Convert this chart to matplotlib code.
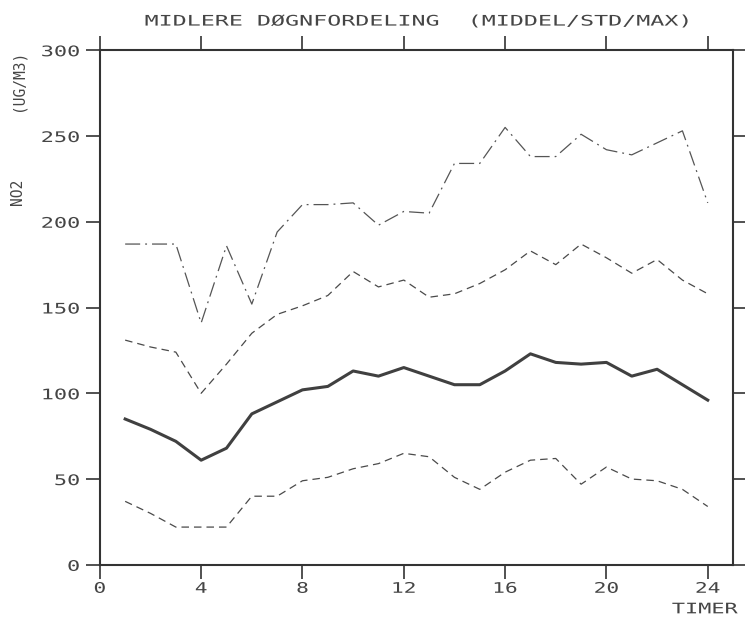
import matplotlib.pyplot as plt
import numpy as np
from matplotlib.patheffects import AbstractPathEffect
from matplotlib.transforms import Affine2D

# Timevis NO2 (ug/m3): middel, middel +/- std og maks
timer = np.arange(1, 25)
middel = [85, 79, 72, 61, 68, 88, 95, 102, 104, 113, 110, 115, 110, 105, 105, 113,
          123, 118, 117, 118, 110, 114, 105, 96]
std_pluss = [131, 127, 124, 100, 117, 135, 146, 151, 157, 171, 162, 166, 156, 158, 164, 172,
             183, 175, 187, 179, 170, 178, 166, 158]
std_minus = [37, 30, 22, 22, 22, 40, 40, 49, 51, 56, 59, 65, 63, 51, 44, 54,
             61, 62, 47, 57, 50, 49, 44, 34]
maks = [187, 187, 187, 141, 186, 152, 194, 210, 210, 211, 198, 206, 205, 234, 234, 255,
        238, 238, 251, 242, 239, 246, 253, 211]

x_ticks = [0, 4, 8, 12, 16, 20, 24]
y_ticks = [0, 50, 100, 150, 200, 250, 300]

ink = '#454545'
font = 'DejaVu Sans Mono'


class Wide(AbstractPathEffect):
    """Draws text glyphs stretched along the writing direction (plotter lettering)."""

    def __init__(self, sx, anchor='center'):
        super().__init__()
        self.sx = sx
        self.anchor = anchor

    def draw_path(self, renderer, gc, tpath, affine, rgbFace=None):
        ext = tpath.get_extents()
        if self.anchor == 'right':
            x0 = ext.x1
        elif self.anchor == 'left':
            x0 = ext.x0
        else:
            x0 = (ext.x0 + ext.x1) / 2
        stretch = Affine2D().translate(-x0, 0).scale(self.sx, 1).translate(x0, 0)
        renderer.draw_path(gc, tpath, stretch + affine, rgbFace)


fig = plt.figure(figsize=(7.45, 6.2), dpi=100)
ax = fig.add_axes([0.134, 0.089, 0.850, 0.830])

ax.plot(timer, maks, color='#555555', linewidth=0.9, dashes=(12, 4, 1.5, 4))
ax.plot(timer, std_pluss, color='#4a4a4a', linewidth=0.9, dashes=(6, 4))
ax.plot(timer, std_minus, color='#4a4a4a', linewidth=0.9, dashes=(6, 4))
ax.plot(timer, middel, color='#404040', linewidth=2.2)

ax.set_xlim(0, 25)
ax.set_ylim(0, 300)
ax.set_xticks(x_ticks)
ax.set_yticks(y_ticks)
ax.set_xticklabels([str(t) for t in x_ticks], fontfamily=font, fontsize=10.5, color=ink)
ax.set_yticklabels([str(t) for t in y_ticks], fontfamily=font, fontsize=10.5, color=ink)
ax.tick_params(axis='x', direction='out', length=10, width=1.2, color='#333333', pad=1.5,
               top=True)
ax.tick_params(axis='y', direction='out', length=10, width=1.2, color='#333333', pad=4.5,
               right=True)
for lbl in ax.get_xticklabels():
    lbl.set_path_effects([Wide(1.45)])
for lbl in ax.get_yticklabels():
    lbl.set_path_effects([Wide(1.5, 'right')])

for side in ax.spines.values():
    side.set_color('#333333')
    side.set_linewidth(1.5)

title = fig.text(0.560, 0.966, 'MIDLERE DØGNFORDELING  (MIDDEL/STD/MAX)', ha='center',
                 va='center', fontfamily=font, fontsize=10.5, color=ink)
title.set_path_effects([Wide(1.6)])

fig.text(0.024, 0.690, 'NO2', rotation=90, ha='center', va='center',
         fontfamily=font, fontsize=10.5, color=ink)
fig.text(0.024, 0.870, '(UG/M3)', rotation=90, ha='center', va='center',
         fontfamily=font, fontsize=10.5, color=ink)

xlabel = fig.text(0.990, 0.018, 'TIMER', ha='right', va='center',
                  fontfamily=font, fontsize=10.5, color=ink)
xlabel.set_path_effects([Wide(1.5, 'right')])

fig.savefig('out.png', dpi=100, facecolor='white')
